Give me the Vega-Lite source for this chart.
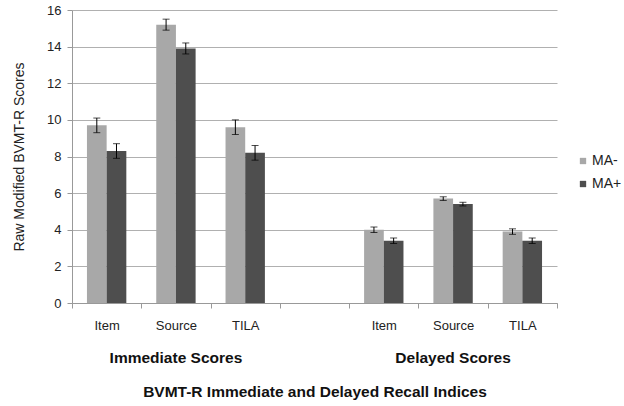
{
  "$schema": "https://vega.github.io/schema/vega-lite/v6.json",
  "width": 485,
  "height": 293,
  "autosize": "none",
  "padding": {"left": 72, "top": 10, "right": 67, "bottom": 103},
  "background": "white",
  "config": {
    "font": "Liberation Sans",
    "view": {"stroke": null},
    "axis": {"labelFont": "Liberation Sans", "titleFont": "Liberation Sans"},
    "axisY": {
      "tickCount": 8,
      "labelFontSize": 13, "labelColor": "#222222", "labelPadding": 6,
      "tickSize": 5, "tickColor": "#999999", "domainColor": "#999999",
      "gridColor": "#b0b0b0", "gridWidth": 1
    }
  },
  "data": {
    "values": [
      {"slot": "Immediate|Item", "series": "MA-", "value": 9.7, "lo": 9.3, "hi": 10.1},
      {"slot": "Immediate|Item", "series": "MA+", "value": 8.3, "lo": 7.9, "hi": 8.7},
      {"slot": "Immediate|Source", "series": "MA-", "value": 15.2, "lo": 14.9, "hi": 15.5},
      {"slot": "Immediate|Source", "series": "MA+", "value": 13.9, "lo": 13.6, "hi": 14.2},
      {"slot": "Immediate|TILA", "series": "MA-", "value": 9.6, "lo": 9.2, "hi": 10.0},
      {"slot": "Immediate|TILA", "series": "MA+", "value": 8.2, "lo": 7.8, "hi": 8.6},
      {"slot": "Delayed|Item", "series": "MA-", "value": 4.0, "lo": 3.85, "hi": 4.15},
      {"slot": "Delayed|Item", "series": "MA+", "value": 3.4, "lo": 3.25, "hi": 3.55},
      {"slot": "Delayed|Source", "series": "MA-", "value": 5.7, "lo": 5.6, "hi": 5.8},
      {"slot": "Delayed|Source", "series": "MA+", "value": 5.4, "lo": 5.3, "hi": 5.5},
      {"slot": "Delayed|TILA", "series": "MA-", "value": 3.9, "lo": 3.75, "hi": 4.05},
      {"slot": "Delayed|TILA", "series": "MA+", "value": 3.4, "lo": 3.25, "hi": 3.55}
    ]
  },
  "encoding": {
    "xOffset": {"field": "series", "type": "nominal", "scale": {"domain": ["MA-", "MA+"], "paddingInner": 0, "paddingOuter": 0.76}}
  },
  "layer": [
    {
      "mark": {"type": "bar"},
      "encoding": {
        "x": {
          "field": "slot", "type": "nominal",
          "scale": {"domain": ["Immediate|Item", "Immediate|Source", "Immediate|TILA", "gap|", "Delayed|Item", "Delayed|Source", "Delayed|TILA"], "paddingInner": 0, "paddingOuter": 0},
          "axis": {
            "title": null, "labelExpr": "split(datum.value, '|')[1]", "labelAngle": 0,
            "labelFontSize": 13, "labelColor": "#222222", "labelPadding": 11,
            "tickBand": "extent", "tickSize": 5, "tickColor": "#999999",
            "domainColor": "#999999", "grid": false
          }
        },
        "y": {
          "field": "value", "type": "quantitative",
          "scale": {"domain": [0, 16], "nice": false},
          "axis": {
            "title": "Raw Modified BVMT-R Scores", "titleFontSize": 14, "titleFontWeight": "normal", "titleColor": "#222222", "titlePadding": 20
          }
        },
        "color": {
          "field": "series", "type": "nominal",
          "scale": {"domain": ["MA-", "MA+"], "range": ["#a8a8a8", "#4e4e4e"]},
          "legend": {
            "title": null, "orient": "none", "legendX": 504, "legendY": 144,
            "symbolType": "square", "symbolSize": 40, "symbolStrokeWidth": 0,
            "labelFontSize": 14, "labelColor": "#222222", "rowPadding": 9, "labelOffset": 2
          }
        }
      }
    },
    {
      "mark": {"type": "rule", "color": "#000000", "strokeWidth": 1},
      "encoding": {
        "x": {"field": "slot", "type": "nominal", "axis": null},
        "y": {"field": "lo", "type": "quantitative"},
        "y2": {"field": "hi"}
      }
    },
    {
      "mark": {"type": "tick", "color": "#000000", "thickness": 1, "size": 7},
      "encoding": {
        "x": {"field": "slot", "type": "nominal", "axis": null},
        "y": {"field": "hi", "type": "quantitative"}
      }
    },
    {
      "mark": {"type": "tick", "color": "#000000", "thickness": 1, "size": 7},
      "encoding": {
        "x": {
          "field": "slot", "type": "nominal",
          "axis": {
            "orient": "bottom", "domain": false, "ticks": false, "grid": false,
            "labelExpr": "indexof(datum.value, 'Source') >= 0 ? split(datum.value, '|')[0] + ' Scores' : ''",
            "labelAngle": 0, "labelFontSize": 15.5, "labelFontWeight": "bold", "labelColor": "#111111",
            "labelPadding": 47,
            "title": "BVMT-R Immediate and Delayed Recall Indices", "titleFontSize": 15.5, "titleFontWeight": "bold",
            "titleColor": "#111111", "titlePadding": 19
          }
        },
        "y": {"field": "lo", "type": "quantitative"}
      }
    }
  ],
  "resolve": {"axis": {"x": "independent"}}
}
